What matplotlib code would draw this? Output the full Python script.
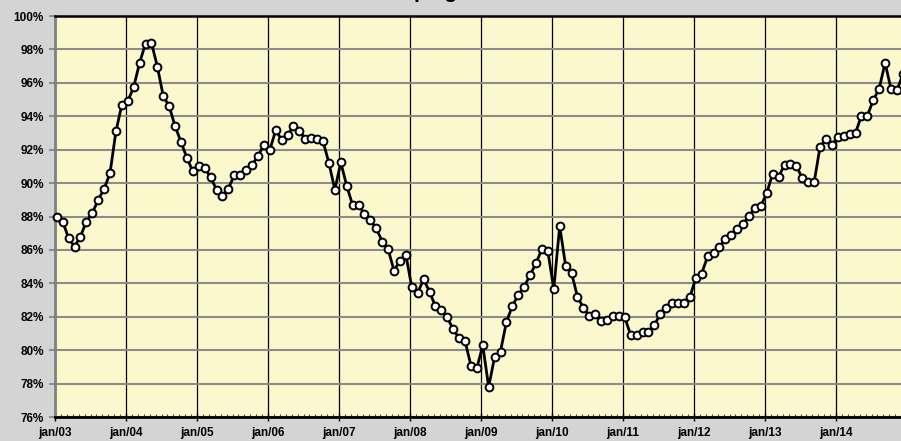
import matplotlib.pyplot as plt
import numpy as np

# monthly occupancy (%), jan/03 .. dec/14
y2003 = [88.0, 87.7, 86.7, 86.2, 86.8, 87.7, 88.2, 89.0, 89.65, 90.6, 93.1, 94.7]
y2004 = [94.9, 95.75, 97.2, 98.35, 98.4, 96.97, 95.2, 94.6, 93.4, 92.46, 91.5, 90.7]
y2005 = [91.0, 90.9, 90.35, 89.6, 89.2, 89.67, 90.47, 90.5, 90.8, 91.1, 91.6, 92.3]
y2006 = [91.98, 93.16, 92.6, 92.86, 93.4, 93.1, 92.66, 92.7, 92.66, 92.5, 91.2, 89.6]
y2007 = [91.24, 89.84, 88.68, 88.68, 88.16, 87.78, 87.3, 86.5, 86.04, 84.76, 85.36, 85.72]
y2008 = [83.76, 83.44, 84.24, 83.5, 82.62, 82.4, 81.96, 81.24, 80.72, 80.54, 79.08, 78.94]
y2009 = [80.28, 77.8, 79.6, 79.92, 81.7, 82.64, 83.32, 83.8, 84.5, 85.2, 86.06, 85.92]
y2010 = [83.66, 87.42, 85.06, 84.62, 83.2, 82.54, 82.04, 82.16, 81.72, 81.78, 82.02, 82.04]
y2011 = [81.96, 80.9, 80.88, 81.06, 81.06, 81.48, 82.18, 82.54, 82.84, 82.82, 82.8, 83.18]
y2012 = [84.3, 84.58, 85.62, 85.8, 86.18, 86.64, 86.92, 87.28, 87.58, 88.02, 88.52, 88.62]
y2013 = [89.42, 90.56, 90.38, 91.08, 91.14, 91.04, 90.28, 90.08, 90.04, 92.16, 92.64, 92.28]
y2014 = [92.76, 92.84, 92.94, 93.0, 94.04, 94.04, 94.96, 95.66, 97.2, 95.62, 95.56, 96.5]

year_labels = ['jan/03', 'jan/04', 'jan/05', 'jan/06', 'jan/07', 'jan/08',
               'jan/09', 'jan/10', 'jan/11', 'jan/12', 'jan/13', 'jan/14']
title_text = 'ping'

values = np.concatenate([y2003, y2004, y2005, y2006, y2007, y2008,
                         y2009, y2010, y2011, y2012, y2013, y2014])
months = np.arange(len(values)) + 0.3

plt.rcParams['font.family'] = ['Liberation Sans', 'DejaVu Sans']
plt.rcParams['font.weight'] = 'bold'

fig = plt.figure(figsize=(9.01, 4.41), dpi=100)
fig.patch.set_facecolor('#D4D4D4')
ax = fig.add_axes([55 / 901, 24 / 441, 852 / 901, 401 / 441])
ax.set_facecolor('#FCF8CD')

ax.plot(months, values, color='black', lw=2, marker='o', ms=5.6,
        mfc='white', mec='black', mew=1.4, clip_on=False, zorder=3)

ax.set_xlim(0, 144)
ax.set_ylim(76, 100)
ax.set_yticks(np.arange(76, 101, 2))
ax.set_yticklabels(['%d%%' % v for v in np.arange(76, 101, 2)], fontsize=8.5, fontweight='bold')
ax.set_xticks(np.arange(0, 144, 12))
ax.set_xticklabels(year_labels, fontsize=8.5, fontweight='bold')
ax.set_xticks(np.arange(0, 144, 1), minor=True)

ax.grid(axis='y', color='#8C8C8C', lw=1.5)
ax.grid(axis='x', color='black', lw=0.9)
ax.set_axisbelow(True)

ax.tick_params(axis='y', length=4, width=1.2, color='#808080', pad=4)
ax.tick_params(axis='x', which='major', direction='inout', length=6, width=1, pad=4.5)
ax.tick_params(axis='x', which='minor', direction='in', length=2.5, width=0.8, color='#444444')

ax.spines['left'].set_color('#808080')
ax.spines['left'].set_linewidth(2)
ax.spines['bottom'].set_linewidth(2)
ax.spines['top'].set_linewidth(1.8)
ax.spines['right'].set_visible(False)

# title is mostly cut off at the top edge
fig.text(0.4835, 1.004, title_text, ha='center', va='baseline', fontsize=15, fontweight='bold')

fig.savefig('out.png', dpi=100, facecolor=fig.get_facecolor())
